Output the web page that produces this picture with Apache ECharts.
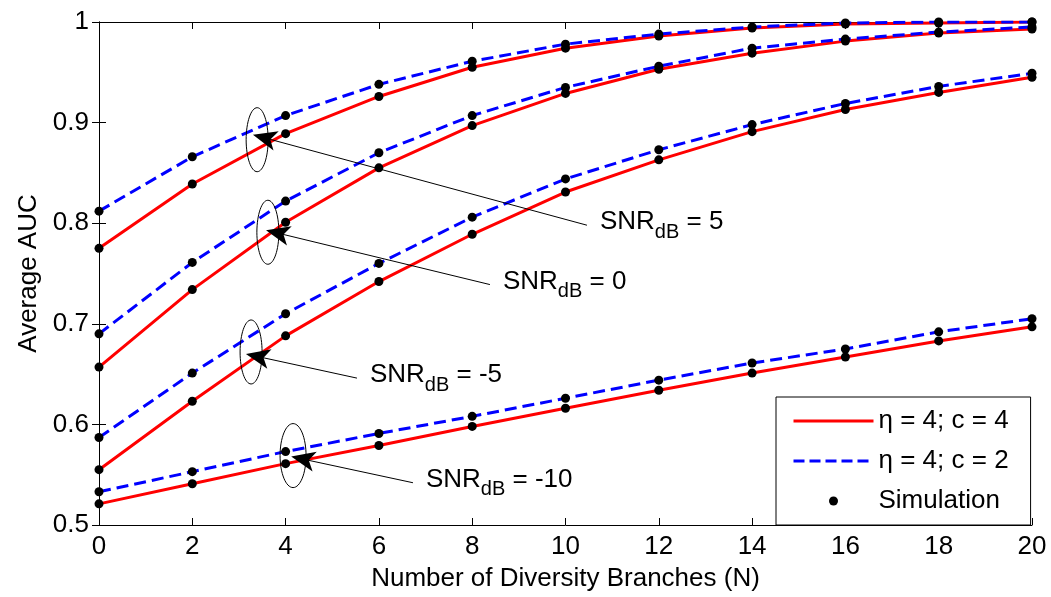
<!DOCTYPE html>
<html>
<head>
<meta charset="utf-8">
<script src="https://cdn.jsdelivr.net/npm/echarts@6/dist/echarts.min.js"></script>
<style>html,body{margin:0;padding:0;background:#fff}#c{width:1051px;height:597px}</style>
</head>
<body>
<div id="c"></div>
<script>
const branches = [0, 2, 4, 6, 8, 10, 12, 14, 16, 18, 20];
const red5   = [0.775, 0.839, 0.889, 0.926, 0.955, 0.974, 0.986, 0.994, 0.998, 0.999, 1.000];
const blue5  = [0.812, 0.866, 0.907, 0.938, 0.961, 0.978, 0.988, 0.995, 0.999, 1.000, 1.000];
const red0   = [0.657, 0.734, 0.801, 0.855, 0.897, 0.929, 0.953, 0.969, 0.981, 0.989, 0.993];
const blue0  = [0.690, 0.761, 0.822, 0.870, 0.907, 0.935, 0.956, 0.974, 0.983, 0.990, 0.995];
const redM5  = [0.555, 0.623, 0.688, 0.742, 0.789, 0.831, 0.863, 0.891, 0.913, 0.930, 0.945];
const blueM5 = [0.587, 0.651, 0.710, 0.760, 0.806, 0.844, 0.873, 0.898, 0.919, 0.936, 0.949];
const redM10 = [0.521, 0.541, 0.561, 0.579, 0.598, 0.616, 0.634, 0.651, 0.667, 0.683, 0.697];
const blueM10= [0.533, 0.553, 0.573, 0.591, 0.608, 0.626, 0.644, 0.661, 0.675, 0.692, 0.705];
const redName = 'η = 4; c = 4';
const blueName = 'η = 4; c = 2';
const simName = 'Simulation';
const snrLabels = ['5', '0', '-5', '-10'];
// annotation anchors in data units: ellipse centre, arrow tip, label anchor
const noteEllipseN = [3.39, 3.62, 3.26, 4.16];
const noteEllipseV = [0.883, 0.791, 0.672, 0.569];
const noteTipN     = [3.30, 3.58, 3.15, 4.12];
const noteTipV     = [0.888, 0.793, 0.670, 0.568];
const noteTextN    = [10.46, 8.38, 5.53, 6.73];
const noteTextV    = [0.798, 0.739, 0.646, 0.542];

const pairs = (ys) => branches.map((x, i) => [x, ys[i]]);
const reds = [red5, red0, redM5, redM10];
const blues = [blue5, blue0, blueM5, blueM10];
const FONT = '"Liberation Sans", Arial, sans-serif';
const FS = 26;

const series = [];
reds.forEach(r => series.push({
  name: redName, type: 'line', data: pairs(r), symbol: 'none', showSymbol: false,
  lineStyle: {color: '#ff0000', width: 3}, itemStyle: {color: '#ff0000'}, z: 2, animation: false
}));
blues.forEach(b => series.push({
  name: blueName, type: 'line', data: pairs(b), symbol: 'none', showSymbol: false,
  lineStyle: {color: '#0000ff', width: 3, type: [12, 6]}, itemStyle: {color: '#0000ff'}, z: 3, animation: false
}));
let sim = [];
reds.concat(blues).forEach(a => { sim = sim.concat(pairs(a)); });
series.push({
  name: simName, type: 'scatter', data: sim, symbol: 'circle', symbolSize: 9,
  itemStyle: {color: '#000', opacity: 1}, z: 4, animation: false
});

const axisCommon = {
  type: 'value',
  axisLine: {show: true, lineStyle: {color: '#000', width: 1}},
  axisTick: {show: true, inside: true, length: 7, lineStyle: {color: '#000'}},
  splitLine: {show: false},
  axisLabel: {color: '#000', fontFamily: FONT, fontSize: FS}
};

const chart = echarts.init(document.getElementById('c'));
chart.setOption({
  animation: false,
  backgroundColor: '#fff',
  grid: {left: 99, right: 19, top: 22, bottom: 72},
  xAxis: [
    Object.assign({}, axisCommon, {min: 0, max: 20, interval: 2, position: 'bottom',
      name: 'Number of Diversity Branches (N)', nameLocation: 'middle', nameGap: 41,
      nameTextStyle: {color: '#000', fontFamily: FONT, fontSize: FS},
      axisLabel: {color: '#000', fontFamily: FONT, fontSize: FS, margin: 9}}),
    Object.assign({}, axisCommon, {min: 0, max: 20, interval: 2, position: 'top',
      axisLabel: {show: false}})
  ],
  yAxis: [
    Object.assign({}, axisCommon, {min: 0.5, max: 1, interval: 0.1, position: 'left',
      name: 'Average AUC', nameLocation: 'middle', nameGap: 56,
      nameTextStyle: {color: '#000', fontFamily: FONT, fontSize: FS},
      axisLabel: {color: '#000', fontFamily: FONT, fontSize: FS, margin: 10,
        formatter: v => (Math.round(v * 10) / 10).toString()}}),
    Object.assign({}, axisCommon, {min: 0.5, max: 1, interval: 0.1, position: 'right',
      axisLabel: {show: false}})
  ],
  legend: {
    data: [
      {name: redName, itemStyle: {opacity: 0}, lineStyle: {width: 3, color: '#ff0000'}},
      {name: blueName, itemStyle: {opacity: 0}, lineStyle: {width: 3, color: '#0000ff', type: [11, 5]}},
      {name: simName}
    ],
    orient: 'vertical', left: 776, top: 397,
    backgroundColor: '#fff', borderColor: '#000', borderWidth: 1,
    padding: [9, 22, 9, 16], itemWidth: 80, itemHeight: 9, itemGap: 10,
    textStyle: {color: '#000', fontFamily: FONT, fontSize: FS, lineHeight: 30},
    selectedMode: false
  },
  series: series
});

function drawNotes() {
  const g = [];
  snrLabels.forEach((snr, i) => {
    const c = chart.convertToPixel({xAxisIndex: 0, yAxisIndex: 0}, [noteEllipseN[i], noteEllipseV[i]]);
    const tip = chart.convertToPixel({xAxisIndex: 0, yAxisIndex: 0}, [noteTipN[i], noteTipV[i]]);
    const t = chart.convertToPixel({xAxisIndex: 0, yAxisIndex: 0}, [noteTextN[i], noteTextV[i]]);
    g.push({type: 'ellipse', shape: {cx: c[0], cy: c[1], rx: i === 3 ? 13 : 11, ry: 32},
      style: {fill: 'none', stroke: '#000', lineWidth: 1}, z: 10});
    let dx = t[0] - tip[0], dy = t[1] - tip[1];
    const len = Math.sqrt(dx * dx + dy * dy); dx /= len; dy /= len;
    const px = -dy, py = dx, L = 24, W = 10;
    g.push({type: 'line', shape: {x1: tip[0] + dx * 15, y1: tip[1] + dy * 15, x2: t[0], y2: t[1]},
      style: {stroke: '#000', lineWidth: 1}, z: 10});
    g.push({type: 'polygon', shape: {points: [
      tip,
      [tip[0] + dx * L + px * W, tip[1] + dy * L + py * W],
      [tip[0] + dx * L * 0.75, tip[1] + dy * L * 0.75],
      [tip[0] + dx * L - px * W, tip[1] + dy * L - py * W]
    ]}, style: {fill: '#000'}, z: 11});
    g.push({type: 'text', x: t[0] + 13, y: t[1] - 3, z: 12, style: {
      text: '{a|SNR}{b|dB}{a| = ' + snr + '}',
      verticalAlign: 'middle', align: 'left',
      rich: {
        a: {fontFamily: FONT, fontSize: FS, lineHeight: 40, fill: '#000'},
        b: {fontFamily: FONT, fontSize: 20, lineHeight: 18, verticalAlign: 'bottom', fill: '#000'}
      }
    }});
  });
  chart.setOption({graphic: g});
}
drawNotes();
</script>
</body>
</html>
